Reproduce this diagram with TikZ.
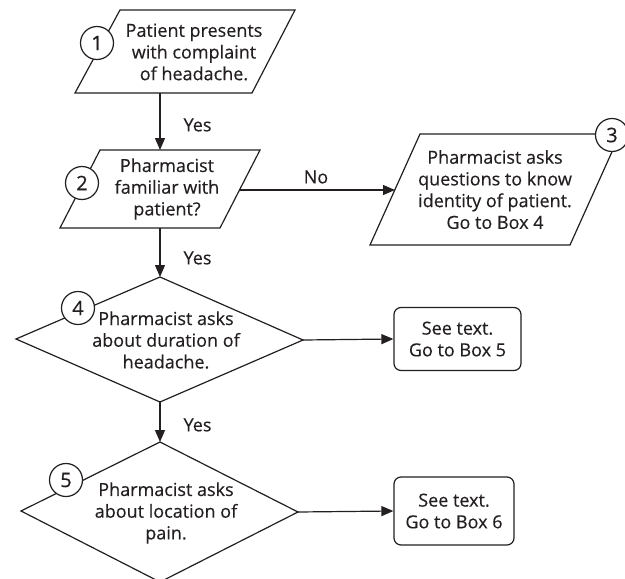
\documentclass[tikz,border=0pt]{standalone}
\usepackage{fontspec}
\setmainfont{Open Sans}[FakeBold=0.35]
\usetikzlibrary{arrows.meta}
\definecolor{ink}{HTML}{231F20}
\begin{document}
\begin{tikzpicture}[x=1pt,y=-1pt,
  line width=1.2pt, draw=ink, text=ink,
  outline/.style={draw=ink, line width=1.2pt, line join=miter},
  txt/.style={align=center, font=\fontsize{18}{21.7}\selectfont, inner sep=0pt},
  lbl/.style={font=\fontsize{18}{21.7}\selectfont, inner sep=0pt, text=ink},
  numc/.style={circle, draw=ink, fill=white, line width=1.2pt, minimum size=33pt, inner sep=0pt, font=\fontsize{20}{22}\selectfont},
  conn/.style={draw=ink, line width=1.2pt, -{Triangle[length=12pt,width=10pt]}},
  rbox/.style={draw=ink, rounded corners=7pt, line width=1.2pt}
]
\useasboundingbox (0,0) rectangle (625,579);
% Box 1
\coordinate (b1tl) at (120,10); \coordinate (b1tr) at (295,10);
\coordinate (b1br) at (252,93); \coordinate (b1bl) at (75,93);
\draw[outline] (b1tl) -- (b1tr) -- (b1br) -- (b1bl) -- cycle;
\node[txt] (t1) at (194,52) {Patient presents\\with complaint\\of headache.};
\coordinate (b1out) at (160,93);
% Box 2
\coordinate (b2tl) at (100,150); \coordinate (b2tr) at (260,150);
\coordinate (b2br) at (220,228); \coordinate (b2bl) at (60,228);
\draw[outline] (b2tl) -- (b2tr) -- (b2br) -- (b2bl) -- cycle;
\node[txt] (t2) at (167,189) {Pharmacist\\familiar with\\patient?};
\coordinate (b2in) at (160,150);
\coordinate (b2out) at (160,228);
\coordinate (b2right) at (239.5,190);
% Box 3
\coordinate (b3tl) at (420,134); \coordinate (b3tr) at (620,134);
\coordinate (b3br) at (570,245); \coordinate (b3bl) at (370,245);
\draw[outline] (b3tl) -- (b3tr) -- (b3br) -- (b3bl) -- cycle;
\node[txt] (t3) at (495,189.5) {Pharmacist asks\\questions to know\\identity of patient.\\Go to Box 4};
\coordinate (b3left) at (395,190);
% Diamond 4
\coordinate (d4t) at (160,277); \coordinate (d4r) at (303,340);
\coordinate (d4b) at (160,402); \coordinate (d4l) at (16,339);
\draw[outline] (d4t) -- (d4r) -- (d4b) -- (d4l) -- cycle;
\node[txt] (t4) at (166,340) {Pharmacist asks\\about duration of\\headache.};
% Diamond 5
\coordinate (d5t) at (160,442); \coordinate (d5r) at (298,512);
\coordinate (d5b) at (160,582); \coordinate (d5l) at (21,511);
\draw[outline] (d5t) -- (d5r) -- (d5b) -- (d5l) -- cycle;
\node[txt] (t5) at (166,513) {Pharmacist asks\\about location of\\pain.};
% Rounded boxes
\node[rbox, minimum width=127pt, minimum height=63pt, txt, draw=ink, line width=1.2pt] (r5) at (457.5,339) {See text.\\Go to Box 5};
\node[rbox, minimum width=120pt, minimum height=68pt, txt, draw=ink, line width=1.2pt] (r6) at (454,511) {See text.\\Go to Box 6};
% Connectors
\draw[conn] (b1out) -- (b2in);
\draw[conn] (b2out) -- (d4t);
\draw[conn] (b2right) -- (b3left);
\draw[conn] (d4b) -- (d5t);
\draw[conn] (d4r) -- (r5.west);
\draw[conn] (d5r) -- (r6.west);
% Labels
\node[lbl, anchor=west] (y1) at (183,125) {Yes};
\node[lbl, anchor=west] (y2) at (183,258) {Yes};
\node[lbl, anchor=west] (y3) at (183,425) {Yes};
\node[lbl] (no) at (316,177) {No};
% Number circles
\node[numc] (c1) at (97,43) {1};
\node[numc] (c2) at (82,183) {2};
\node[numc] (c3) at (612,135) {3};
\node[numc] (c4) at (78,308) {4};
\node[numc] (c5) at (66,480) {5};
\end{tikzpicture}
\end{document}
